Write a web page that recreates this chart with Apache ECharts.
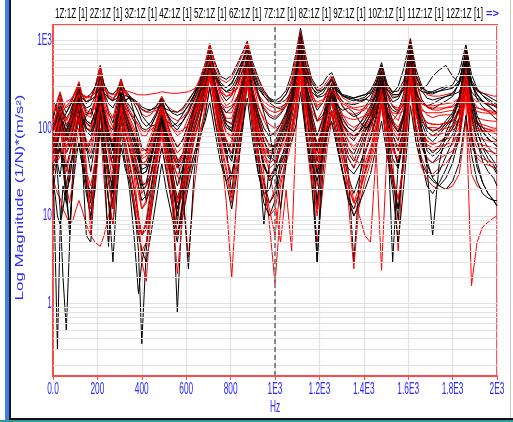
<!DOCTYPE html>
<html>
<head>
<meta charset="utf-8">
<script src="https://cdn.jsdelivr.net/npm/echarts@6/dist/echarts.min.js"></script>
<style>
  html, body { margin: 0; padding: 0; background: #fff; }
  #chart { width: 513px; height: 422px; }
</style>
</head>
<body>
<div id="chart"></div>
<script>
// Frequency grid (Hz) shared by every FRF trace
const freq = [0, 10, 20, 32, 45, 60, 75, 90, 104, 117,
  130, 150, 170, 190, 213, 230, 250, 270, 288, 306,
  325, 345, 365, 385, 400, 420, 440, 465, 490, 510,
  535, 560, 585, 610, 635, 660, 685, 706, 730, 755,
  780, 805, 830, 855, 875, 900, 925, 950, 975, 1000,
  1025, 1050, 1075, 1095, 1115, 1140, 1165, 1190, 1215, 1235,
  1255, 1280, 1305, 1330, 1355, 1380, 1405, 1430, 1455, 1480,
  1505, 1530, 1555, 1580, 1610, 1635, 1660, 1685, 1710, 1740,
  1770, 1800, 1830, 1860, 1885, 1910, 1935, 1960, 1985, 2000];

// Black traces, magnitude (1/N)*(m/s^2)
const k1 = [130,160,200,250,180,150,175,220,270,320, 240,190,215,290,520,310,220,205,250,360, 250,215,190,150,120,105,115,150,220,150, 110,95,120,160,230,340,540,920,560,390, 360,400,540,740,980,560,370,270,220,205, 225,270,420,720,1380,640,370,290,320,390, 430,300,235,215,205,215,225,265,360,560, 320,250,300,480,1050,470,310,250,245,265, 290,310,430,890,410,285,235,205,185,175];
const k2 = [90,65,40,28,55,85,105,160,190,250, 170,115,105,150,300,170,110,95,150,240, 210,220,205,180,140,120,105,110,160,125, 105,115,145,185,235,310,430,610,410,310, 290,330,430,590,760,440,300,235,195,175, 165,195,245,430,780,430,290,250,270,320, 370,280,235,225,215,205,215,205,230,340, 255,200,215,285,540,340,280,310,390,460, 520,390,330,590,310,245,205,185,160,150];
const k3 = [40,4,0.3,7,22,14,35,55,95,140, 75,30,14,45,190,65,24,12,45,125, 60,30,15,4,0.35,4,14,40,95,45, 25,12,18,35,75,125,210,380,190,85, 50,70,130,240,480,165,70,40,25,30, 45,60,95,200,580,170,65,30,55,100, 160,85,50,35,30,38,55,75,125,250, 90,45,35,75,440,150,70,45,40,50, 65,85,130,370,130,70,50,40,35,30];
const k4 = [200,185,150,125,100,95,125,175,220,280, 245,225,245,295,420,320,255,245,275,330, 270,235,205,185,165,155,160,180,220,185, 150,140,150,180,240,330,480,710,460,330, 290,320,445,610,870,480,320,250,215,195, 205,245,330,550,1080,520,330,265,275,310, 345,270,230,220,220,230,240,270,330,440, 315,260,265,350,690,380,290,265,255,265, 275,285,350,690,350,275,235,215,195,185];
const k5 = [70,55,65,110,60,22,6,35,100,175, 110,65,45,70,240,95,30,22,85,200, 120,85,60,42,30,32,45,85,160,95, 45,8,35,70,130,205,320,500,260,130, 60,18,75,215,540,200,95,55,45,55, 80,115,195,370,740,270,95,12,85,175, 275,150,95,60,50,70,105,145,215,375, 160,85,55,105,590,215,115,80,70,85, 105,130,200,490,200,110,75,60,52,48];
const k6 = [110,125,155,205,140,105,125,165,235,315, 205,150,145,200,440,230,150,115,180,320, 195,150,120,85,60,55,70,110,190,120, 80,60,75,115,175,265,420,810,420,255, 205,235,350,540,840,380,225,165,135,125, 145,180,280,490,990,430,225,160,195,260, 380,235,175,150,135,145,175,215,300,490, 255,175,155,250,880,345,215,175,165,185, 205,230,330,740,330,215,175,155,135,125];
const k7 = [25,17,10,8,12,22,38,48,55,65, 40,18,10,20,150,45,15,8,25,90, 42,20,6,1.3,3,5,10,26,62,32, 14,6,10,22,42,72,135,290,120,52, 25,12,32,100,340,90,32,14,10,15, 32,50,88,175,440,88,28,3,30,80, 148,70,32,16,12,18,32,52,92,195, 62,24,12,42,340,98,42,22,18,24, 34,52,90,290,88,42,24,18,15,13];
const k8 = [80,60,30,12,2,0.5,5,32,85,150, 90,55,70,115,245,120,62,35,75,170, 95,60,40,28,20,22,30,62,130,72, 30,0.8,18,50,100,168,280,450,220,105, 55,42,92,200,470,160,72,38,28,35, 62,100,175,325,640,215,75,32,72,148, 228,120,72,45,35,52,80,110,170,315, 120,62,38,82,540,178,92,55,48,55, 75,100,160,440,170,92,60,45,38,32];
const k9 = [150,140,120,105,125,150,180,200,230,255, 220,200,210,230,300,255,220,205,220,250, 235,225,212,195,175,165,162,170,182,165, 155,152,170,210,258,320,400,545,380,292, 262,272,330,450,595,380,282,232,205,192, 192,212,262,380,690,378,262,225,232,262, 300,262,242,232,222,232,242,252,272,322, 272,242,242,272,450,302,262,252,262,282, 302,292,322,498,322,272,252,232,212,202];
const k10 = [40,45,55,70,42,18,26,52,82,150, 62,22,9,32,175,62,28,14,52,140, 72,38,20,10,6,8,18,50,110,58, 28,12,22,46,90,150,248,420,200,92, 48,28,72,170,440,130,52,24,14,18, 42,70,128,255,540,160,48,15,50,110, 198,100,52,28,18,28,50,80,138,298, 100,30,9,58,470,158,70,38,28,32, 48,70,128,410,150,72,42,32,27,22];
const k11 = [60,70,92,130,82,52,62,92,140,200, 130,92,82,112,275,130,72,45,100,218, 130,95,68,45,30,32,48,85,150,92, 52,35,42,80,140,220,360,640,330,182, 122,112,200,375,690,280,142,85,65,62, 92,130,218,415,840,280,82,3,60,158, 278,150,82,32,3,26,70,120,200,375, 150,92,72,140,690,250,132,92,82,92, 112,140,218,570,218,122,92,77,67,62];
const k12 = [100,112,132,160,112,92,112,150,190,230, 160,122,112,150,315,150,92,62,120,228, 152,102,72,48,34,36,56,90,150,92, 58,38,52,92,150,230,378,595,320,172, 112,92,170,338,640,258,130,72,48,42, 72,110,200,398,890,300,132,62,110,198, 318,170,112,82,72,92,122,160,240,415, 140,72,36,90,740,200,82,42,27,22, 27,40,80,345,80,36,24,18,15,13];
const k13 = [52,60,82,120,90,72,90,122,160,218, 122,62,32,68,218,42,4.5,32,110,255, 140,85,52,32,22,24,42,82,140,82, 42,22,36,72,122,200,330,545,282,150, 102,92,160,318,595,200,52,8,40,70, 100,140,228,448,940,348,150,82,130,220, 318,190,130,102,92,112,140,180,258,445, 200,120,90,150,790,278,150,102,92,100, 122,150,228,640,248,140,102,87,77,72];
const k14 = [35,40,52,62,46,36,52,72,92,122, 52,6,5,28,158,72,36,18,62,160, 90,58,36,22,15,17,28,60,120,62, 32,16,26,56,100,160,270,475,230,112, 72,46,110,248,515,170,72,36,28,32, 62,90,160,298,695,228,90,42,80,150, 248,140,82,52,42,60,90,120,180,328, 140,3,40,100,595,200,100,62,52,62, 82,110,170,515,180,92,62,52,42,36];
const k15 = [55,48,70,95,120,90,60,100,140,160, 100,140,170,120,260,150,80,60,150,240, 200,230,150,60,25,15,20,45,100,60, 25,10,30,90,170,260,300,420,250,180, 150,170,220,330,460,260,150,100,80,90, 110,150,240,360,560,300,190,120,140,180, 230,180,160,170,150,120,100,110,150,260, 200,160,150,190,420,250,200,180,190,210, 230,240,260,420,260,220,200,190,180,170];
const k16 = [18,30,45,60,35,15,8,22,45,70, 40,25,18,35,95,45,15,3,18,65, 35,25,12,6,4,3,6,15,40,20, 10,5,15,30,50,80,120,200,90,40, 25,30,60,110,220,70,30,18,20,35, 40,55,70,110,260,80,40,25,50,90, 120,60,30,15,10,14,20,30,60,120, 50,20,5,22,180,70,40,30,25,22, 20,25,40,140,50,25,18,16,15,15];
const k17 = [95,110,140,180,150,130,150,190,230,280, 200,170,180,230,380,250,190,170,210,290, 210,180,150,120,100,95,105,140,200,150, 120,105,120,150,210,300,450,760,420,300, 260,290,380,560,820,420,250,150,90,40, 12,40,180,440,1200,500,300,230,250,300, 360,250,200,190,185,195,210,240,320,520, 280,220,230,300,950,400,270,220,210,220, 230,250,320,780,330,240,200,180,160,150];
const k18 = [75,85,105,140,100,80,95,130,170,220, 140,100,90,120,290,140,85,55,110,220, 150,110,80,55,40,38,48,80,140,90, 60,45,20,2.5,30,110,280,560,300,170, 110,100,170,320,600,230,120,70,55,58, 85,120,200,380,780,270,120,55,100,170, 260,160,110,90,80,90,110,140,200,350, 160,110,90,130,680,220,100,35,6,40, 90,130,210,560,220,120,90,75,68,62];

// Red traces, magnitude (1/N)*(m/s^2)
const q1 = [150,170,210,260,200,170,190,230,280,340, 250,200,220,300,515,300,230,210,260,365, 260,225,200,175,145,135,142,172,232,182, 162,152,162,202,262,362,540,895,520,360, 330,370,500,700,945,520,350,262,212,192, 202,242,362,650,1290,600,350,272,292,342, 398,282,222,202,192,202,212,242,322,515, 302,232,232,322,990,420,292,242,232,232, 242,252,322,790,322,262,252,242,232,232];
const q2 = [70,82,112,150,102,72,92,130,180,238, 150,102,92,130,295,150,92,62,120,238, 150,112,82,58,45,48,66,100,170,110, 72,52,62,100,160,240,378,575,200,60, 15,2,20,195,475,180,92,58,48,52, 82,120,200,378,695,260,112,62,100,170, 258,160,112,92,82,92,112,140,200,328, 150,102,82,122,495,200,120,102,102,100, 112,120,150,395,132,112,102,97,95,95];
const q3 = [92,100,132,170,120,92,112,150,200,258, 170,122,112,150,345,170,112,82,140,258, 170,122,92,62,48,52,72,110,180,122, 82,62,72,112,170,250,398,645,330,200, 150,150,220,378,645,250,90,30,8,1.7, 12,60,180,378,695,250,122,82,120,190, 268,170,122,102,92,102,122,150,210,348, 170,122,102,140,595,230,140,115,112,110, 115,122,160,475,142,112,102,97,92,87];
const q4 = [50,62,82,110,82,62,82,112,150,198, 110,72,62,92,218,110,62,38,92,180, 110,72,48,28,18,22,40,75,130,82, 48,28,42,75,130,190,298,495,250,130, 90,82,150,298,545,200,102,62,48,55, 82,110,180,328,695,230,92,42,90,150, 238,140,92,72,62,72,92,112,160,298, 120,82,62,92,545,170,92,72,66,70, 80,100,130,200,1.6,5,7.5,8.5,9.5,10];
const q5 = [25,22,18,16,12,10,8,9,12,15, 12,8,6,5,4.5,6,10,16,30,60, 42,28,15,9,6,7,14,30,60,36, 16,6,13,26,50,90,150,298,130,62, 32,14,40,118,345,110,42,18,10,12, 26,40,70,148,345,80,22,5,20,60, 118,62,32,18,10,13,25,40,70,178, 60,26,12,40,298,90,46,32,30,35, 40,50,80,218,70,46,40,38,36,35];
const q6 = [100,122,160,218,150,112,122,160,218,288, 190,142,132,190,415,200,132,102,160,298, 182,132,102,72,55,58,82,120,190,122, 72,42,52,92,150,230,378,740,380,230, 180,200,298,478,790,340,180,122,92,82, 112,150,250,448,990,400,200,122,160,230, 328,200,142,112,102,112,132,170,250,445, 200,142,122,180,790,298,170,142,132,140, 142,142,160,545,152,132,125,122,120,120];
const q7 = [60,72,100,140,90,40,25,60,130,208, 120,72,52,90,258,110,52,22,72,188, 110,72,42,22,12,15,30,65,120,72, 36,14,26,60,110,180,298,515,260,140, 90,76,140,278,555,200,100,56,32,14, 5,20,4,100,745,250,100,42,90,160, 248,150,100,72,56,70,95,120,180,318, 110,45,4,70,478,160,90,70,65,70, 75,80,100,378,100,80,75,72,70,70];
const q8 = [180,172,150,142,160,180,200,228,258,288, 238,220,228,258,378,278,238,220,238,298, 250,222,200,182,162,152,152,160,180,152, 132,122,132,160,210,288,418,595,380,260, 230,240,298,418,645,330,230,182,160,150, 160,180,230,358,790,380,250,182,200,238, 298,230,200,182,170,175,180,190,230,348, 220,180,170,200,595,260,190,175,170,170, 170,175,200,545,180,170,165,160,155,150];
const q9 = [30,36,46,60,40,22,14,26,60,100, 52,22,12,26,140,52,16,8,30,100, 56,28,14,7,4,5,12,36,80,42, 16,2.2,10,30,70,120,200,378,160,70, 36,16,50,140,378,100,40,17,14,20, 36,56,100,200,448,110,32,10,40,90, 160,80,42,22,14,22,40,60,110,218, 70,30,15,45,378,110,60,46,40,45, 50,55,70,258,60,50,45,42,40,40];
const q10 = [120,132,170,228,160,122,140,190,250,308, 210,160,150,210,465,240,160,132,200,338, 210,162,132,102,82,82,102,140,210,142, 102,82,92,132,190,280,448,845,430,280, 230,250,358,548,895,420,240,172,142,132, 150,190,300,548,1190,478,260,172,200,268, 378,240,180,152,142,152,162,200,280,475, 240,180,160,220,895,348,210,172,162,160, 172,180,220,695,220,172,162,155,150,145];
const q11 = [45,52,72,100,72,52,72,100,140,188, 80,32,16,22,100,26,5,26,80,170, 90,56,32,18,12,14,28,60,110,62, 26,10,20,50,100,160,268,465,230,112, 70,52,100,228,495,170,72,36,26,36, 62,90,150,288,595,200,72,22,70,140, 208,120,72,46,36,50,75,100,150,278, 100,56,42,80,448,150,80,60,55,60, 60,65,90,318,80,60,58,55,53,50];
const q12 = [80,92,120,160,112,82,100,140,190,248, 160,112,102,140,328,160,102,72,130,248, 160,112,82,52,38,42,62,100,170,102, 62,36,50,90,150,220,358,615,310,172, 130,130,200,358,615,240,132,82,62,62, 92,130,210,398,845,300,132,62,110,190, 278,140,62,15,2.5,15,50,100,170,318, 140,92,72,110,645,220,120,102,95,95, 100,105,130,448,120,100,95,92,90,88];
const q13 = [40,46,62,90,62,32,46,80,110,150, 70,32,22,42,170,62,26,12,46,130, 72,42,22,10,6,9,20,50,100,52, 22,6,16,40,80,130,220,418,180,82, 46,26,66,170,418,130,52,22,12,6, 22,46,90,180,498,120,36,12,40,90, 150,80,42,22,14,18,30,46,80,198, 60,26,16,36,278,70,36,26,22,20, 20,22,30,120,30,22,20,20,20,20];
const q14 = [65,76,100,130,96,76,96,125,165,218, 140,100,96,125,298,140,86,56,110,218, 140,102,78,54,40,42,56,90,150,96, 56,36,46,80,140,210,338,555,290,160, 120,110,180,328,575,220,112,72,52,56, 82,115,190,348,745,270,112,52,95,170, 248,150,106,86,76,86,100,130,190,348, 160,112,96,130,695,240,140,115,110,110, 115,120,150,495,142,115,110,105,100,100];
const q15 = [130,120,110,150,180,200,210,230,250,260, 240,230,230,250,330,270,250,240,250,290, 270,260,250,240,240,240,245,250,260,255, 250,250,255,260,280,320,420,600,400,300, 260,250,280,380,600,330,240,200,180,170, 175,190,230,330,700,320,230,200,210,230, 280,220,190,175,165,160,170,160,60,2.4, 60,120,150,200,520,230,190,180,180,185, 190,195,220,480,230,200,195,190,185,180];
const q16 = [60,50,42,48,65,85,70,55,90,130, 85,60,75,95,180,110,85,70,95,150, 110,80,55,35,25,22,28,45,90,60, 40,30,18,3.4,20,70,180,380,200,110, 70,60,90,150,300,140,80,50,40,45, 55,75,110,180,400,150,80,45,70,110, 160,110,80,60,45,40,35,55,100,200, 110,70,55,80,380,140,90,80,82,85, 90,95,110,300,110,95,92,90,88,86];
const q17 = [110,95,80,120,140,130,115,140,180,210, 160,140,150,170,260,170,140,130,150,200, 170,150,130,110,95,90,95,110,150,120, 100,90,95,110,140,180,250,420,260,190, 170,180,230,330,500,260,170,130,110,100, 110,130,170,260,560,260,160,120,130,160, 200,160,140,130,125,130,140,150,180,260, 170,150,145,160,420,200,160,150,150,150, 155,160,180,400,170,155,150,148,145,145];
const q18 = [55,65,90,120,85,60,75,105,140,180, 110,40,6,40,210,95,55,35,80,170, 95,60,30,10,3,1.8,10,45,100,60, 30,15,25,55,100,160,260,460,230,115, 75,60,110,220,470,170,80,45,35,40, 60,85,140,260,560,180,80,35,70,130, 200,110,60,30,15,10,6,5,50,240, 100,60,45,80,480,160,85,65,60,62, 65,70,90,330,90,68,64,62,60,58];

const blackTraces = [k1, k2, k3, k4, k5, k6, k7, k8, k9, k10, k11, k12, k13, k14, k15, k16, k17, k18];
const redTraces = [q1, q2, q3, q4, q5, q6, q7, q8, q9, q10, q11, q12, q13, q14, q15, q16, q17, q18];

// Axis tick text
const xTicks = [0, 200, 400, 600, 800, 1000, 1200, 1400, 1600, 1800, 2000];
const xTickText = ['0.0', '200', '400', '600', '800', '1E3', '1.2E3', '1.4E3', '1.6E3', '1.8E3', '2E3'];
const yTicks = [1, 10, 100, 1000];
const yTickText = ['1', '10', '100', '1E3'];

// Trace labels in the header strip
const traceLabels = ['1Z:1Z [1]', '2Z:1Z [1]', '3Z:1Z [1]', '4Z:1Z [1]', '5Z:1Z [1]', '6Z:1Z [1]',
  '7Z:1Z [1]', '8Z:1Z [1]', '9Z:1Z [1]', '10Z:1Z [1]', '11Z:1Z [1]', '12Z:1Z [1]'];

// Log grid values (2..9 per decade)
const logGrid = [];
[0.1, 1, 10, 100].forEach(d => { for (let k = 2; k <= 9; k++) logGrid.push(+(d * k).toFixed(3)); });

const BLUE = '#2a2af2';
const AXIS_RED = '#ff4a4a';
const GRID = '#e2e2e2';
const SANS = "'Liberation Sans', Arial, sans-serif";
// glyphs are drawn horizontally condensed
const SQUEEZE = 0.52;

const chart = echarts.init(document.getElementById('chart'), null, { renderer: 'canvas' });

const headerText = traceLabels.join(' ');
const headerFont = '14px ' + SANS;
const ctx = document.createElement('canvas').getContext('2d');
ctx.font = headerFont;
const headerScale = 428 / ctx.measureText(headerText).width;

const series = [];
series.push({
  type: 'line', data: [[0, 1]], symbol: 'none', silent: true, z: 1,
  lineStyle: { opacity: 0 },
  markLine: {
    silent: true, symbol: 'none', animation: false,
    label: { show: false },
    lineStyle: { color: GRID, type: 'solid', width: 1.2 },
    data: logGrid.map(v => ({ yAxis: v }))
  }
});
for (let i = 0; i < blackTraces.length; i++) {
  series.push({
    type: 'line', symbol: 'none', z: 3, animation: false,
    lineStyle: { color: '#000000', width: 1 },
    data: freq.map((f, j) => [f, blackTraces[i][j]])
  });
  series.push({
    type: 'line', symbol: 'none', z: 3, animation: false,
    lineStyle: { color: '#ff0000', width: 1 },
    data: freq.map((f, j) => [f, redTraces[i][j]])
  });
}
// cursor at 1 kHz
series.push({
  type: 'line', data: [[1000, 1]], symbol: 'none', silent: true, z: 4,
  lineStyle: { opacity: 0 },
  markLine: {
    silent: true, symbol: 'none', animation: false,
    label: { show: false },
    lineStyle: { color: '#8a8a8a', type: [5, 3], width: 2 },
    data: [{ xAxis: 1000 }]
  }
});

const frame = [
  { type: 'rect', left: 5, top: 0, shape: { width: 4, height: 420 }, style: { fill: '#3d7fe0' }, silent: true },
  { type: 'rect', left: 9, top: 0, shape: { width: 2, height: 420 }, style: { fill: '#15192a' }, silent: true },
  { type: 'rect', left: 9, top: 418, shape: { width: 504, height: 2 }, style: { fill: '#111111' }, silent: true },
  { type: 'rect', left: 0, top: 420, shape: { width: 513, height: 2 }, style: { fill: '#2f9a9a' }, silent: true },
  { type: 'rect', left: 510, top: 0, shape: { width: 1, height: 418 }, style: { fill: '#c4c4c4' }, silent: true },
  {
    type: 'text', x: 55, y: 14, scaleX: headerScale, silent: true,
    style: { text: headerText, font: headerFont, fill: '#000000', verticalAlign: 'middle' }
  },
  {
    type: 'text', x: 486, y: 14, silent: true,
    style: { text: '=>', font: 'bold 11px ' + SANS, fill: BLUE, verticalAlign: 'middle' }
  }
];

chart.setOption({
  animation: false,
  backgroundColor: '#ffffff',
  grid: {
    left: 53, right: 16, top: 25, bottom: 46,
    show: true, borderColor: AXIS_RED, borderWidth: 2, backgroundColor: 'transparent'
  },
  xAxis: {
    type: 'value', min: 0, max: 2000, interval: 200,
    axisLine: { show: true, lineStyle: { color: AXIS_RED, width: 2 } },
    axisTick: { show: true, length: 4, lineStyle: { color: AXIS_RED, width: 1 } },
    axisLabel: { show: false },
    splitLine: { show: true, lineStyle: { color: GRID, width: 1.2 } }
  },
  yAxis: {
    type: 'log', logBase: 10, min: 0.15, max: 1500,
    axisLine: { show: true, lineStyle: { color: AXIS_RED, width: 2 } },
    axisTick: { show: false },
    axisLabel: { show: false },
    splitLine: { show: true, lineStyle: { color: GRID, width: 1.2 } }
  },
  graphic: frame,
  series: series
});

// Tick labels and axis titles, placed through the axis scales
const labels = [];
xTicks.forEach((v, i) => {
  const px = chart.convertToPixel({ xAxisIndex: 0 }, v);
  labels.push({
    type: 'text', x: px, y: 382, scaleX: SQUEEZE, silent: true,
    style: { text: xTickText[i], font: '16px ' + SANS, fill: BLUE, align: 'center', verticalAlign: 'top' }
  });
});
yTicks.forEach((v, i) => {
  const py = chart.convertToPixel({ yAxisIndex: 0 }, v);
  labels.push({
    type: 'text', x: 52, y: py, scaleX: SQUEEZE, silent: true,
    style: { text: yTickText[i], font: '16px ' + SANS, fill: BLUE, align: 'right', verticalAlign: 'middle' }
  });
});
const hzX = chart.convertToPixel({ xAxisIndex: 0 }, 1000);
labels.push({
  type: 'text', x: hzX, y: 400, scaleX: SQUEEZE, silent: true,
  style: { text: 'Hz', font: '16px ' + SANS, fill: BLUE, align: 'center', verticalAlign: 'top' }
});
const midY = (chart.convertToPixel({ yAxisIndex: 0 }, 0.15) + chart.convertToPixel({ yAxisIndex: 0 }, 1500)) / 2;
labels.push({
  type: 'text', x: 20, y: midY - 3, rotation: Math.PI / 2, scaleY: 0.6, silent: true,
  style: { text: 'Log Magnitude (1/N)*(m/s²)', font: '17px ' + SANS, fill: BLUE, align: 'center', verticalAlign: 'middle' }
});

chart.setOption({ graphic: frame.concat(labels) }, { replaceMerge: ['graphic'] });
</script>
</body>
</html>
